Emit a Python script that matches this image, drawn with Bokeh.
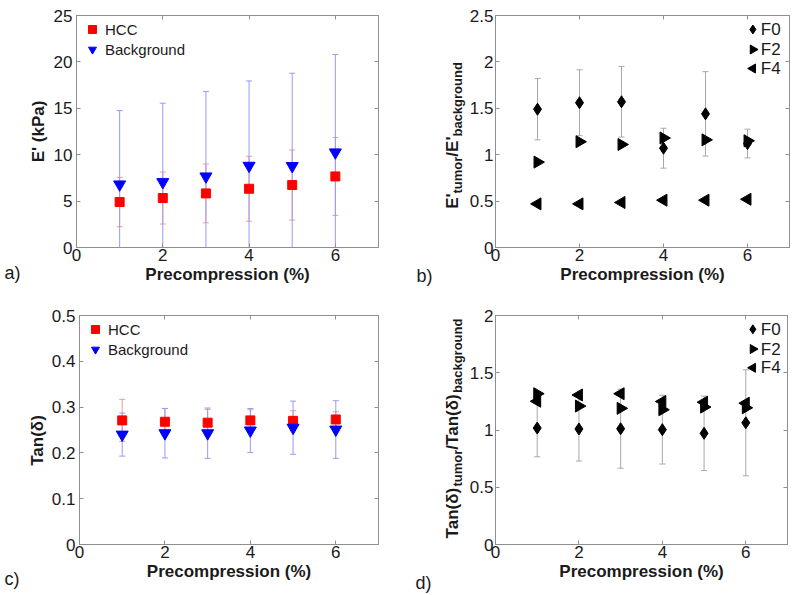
import math
from bokeh.plotting import figure
from bokeh.layouts import row, column
from bokeh.models import (LinearAxis, FixedTicker, NumeralTickFormatter, Range1d,
                          Label, Legend, LegendItem)
from bokeh.embed import file_html
from bokeh.resources import INLINE

# ---------------- data ----------------
precompression = [1, 2, 3, 4, 5, 6]
x_ticks = [0, 2, 4, 6]

# a) storage modulus E' (kPa), mean and SD
hcc_E = [4.90, 5.33, 5.83, 6.33, 6.73, 7.66]
hcc_E_sd = [2.66, 2.80, 3.17, 3.50, 3.78, 4.20]
bg_E = [6.80, 7.05, 7.66, 8.81, 8.78, 10.25]
bg_E_sd = [7.95, 8.50, 9.14, 9.14, 10.00, 10.55]
a_y_ticks = [0, 5, 10, 15, 20, 25]

# b) E'tumor / E'background by fibrosis stage
f0_E_ratio = [1.49, 1.56, 1.57, 1.07, 1.44, 1.12]
f0_E_ratio_sd = [0.33, 0.355, 0.38, 0.215, 0.455, 0.155]
f2_E_ratio = [0.92, 1.14, 1.11, 1.18, 1.16, 1.15]
f4_E_ratio = [0.47, 0.47, 0.485, 0.51, 0.51, 0.52]
b_y_ticks = [0, 0.5, 1, 1.5, 2, 2.5]

# c) Tan(delta)
hcc_tan = [0.271, 0.268, 0.266, 0.271, 0.270, 0.273]
hcc_tan_sd = [0.046, 0.029, 0.029, 0.023, 0.022, 0.017]
bg_tan = [0.240, 0.243, 0.243, 0.249, 0.255, 0.251]
bg_tan_sd = [0.047, 0.054, 0.055, 0.048, 0.058, 0.063]
c_y_ticks = [0, 0.1, 0.2, 0.3, 0.4, 0.5]

# d) Tan(delta)tumor / Tan(delta)background
f0_tan_ratio = [1.017, 1.009, 1.011, 1.003, 0.971, 1.063]
f0_tan_ratio_sd = [0.251, 0.280, 0.345, 0.300, 0.325, 0.463]
f2_tan_ratio = [1.317, 1.209, 1.189, 1.177, 1.200, 1.194]
f4_tan_ratio = [1.251, 1.306, 1.317, 1.249, 1.243, 1.234]
d_y_ticks = [0, 0.5, 1, 1.5, 2]

stage_labels = ["F0", "F2", "F4"]
tissue_labels = ["HCC", "Background"]

# ---------------- styling ----------------
FONT = "Liberation Sans"
AX = "#8f8f8f"
TXT = "#1a1a1a"
X_MAX = 7
RED, BLUE = "#ff0000", "#0000ff"
RED_EB, BLUE_EB = "#f29a9a", "#9a9af2"
GRAY_EB = "#a8a8a8"
SUB_SIZE = 13
BIG_SIZE = 17

# approximate advance widths (em) of Liberation Sans Bold, used to chain label pieces
BOLD_W = {"E": .667, "'": .238, "/": .278, "t": .333, "u": .611, "m": .889, "o": .611,
          "r": .389, "b": .611, "a": .556, "c": .556, "k": .556, "g": .611, "n": .611,
          "d": .611, "T": .611, "(": .333, ")": .333, "δ": .611}


def make_fig(width, height, bl, br, bt, bb, y_max, y_ticks, ytick_standoff=4):
    p = figure(width=width, height=height, x_range=Range1d(0, X_MAX), y_range=Range1d(0, y_max),
               output_backend="svg", toolbar_location=None,
               min_border_left=bl, min_border_right=br, min_border_top=bt, min_border_bottom=bb)
    p.grid.visible = False
    p.outline_line_color = AX
    p.background_fill_color = "white"
    p.border_fill_color = "white"
    xa = p.xaxis[0]
    ya = p.yaxis[0]
    xa.ticker = FixedTicker(ticks=x_ticks)
    ya.ticker = FixedTicker(ticks=y_ticks)
    for ax in (xa, ya):
        ax.formatter = NumeralTickFormatter(format="0.[0]")
        ax.major_tick_in = 4
        ax.major_tick_out = 0
        ax.minor_tick_line_color = None
        ax.axis_line_color = AX
        ax.major_tick_line_color = AX
        ax.major_label_text_font = FONT
        ax.major_label_text_font_size = "17px"
        ax.major_label_text_color = TXT
        ax.axis_label_text_font = FONT
        ax.axis_label_text_font_style = "bold"
        ax.axis_label_text_font_size = "17px"
        ax.axis_label_text_color = TXT
    xa.axis_label = "Precompression (%)"
    xa.major_label_standoff = 1
    xa.axis_label_standoff = 1
    ya.major_label_standoff = ytick_standoff
    for loc, ticks in (("right", y_ticks), ("above", x_ticks)):
        ax = LinearAxis(ticker=FixedTicker(ticks=ticks), major_label_text_font_size="0px",
                        major_label_text_color=None, major_tick_in=4, major_tick_out=0,
                        minor_tick_line_color=None, axis_line_color=AX,
                        major_tick_line_color=AX, major_label_standoff=0)
        p.add_layout(ax, loc)
    return p


def strip(w, h):
    # a plain canvas (no axes) whose frame is the whole canvas: data units == pixels
    s = figure(width=w, height=h, x_range=Range1d(0, w), y_range=Range1d(0, h),
               x_axis_location=None, y_axis_location=None, output_backend="svg",
               toolbar_location=None, min_border=0, min_border_left=0, min_border_right=0,
               min_border_top=0, min_border_bottom=0)
    s.frame_align = False
    s.outline_line_color = None
    s.grid.visible = False
    return s


def errbars(p, x, y, sd, color):
    lo = [m - s for m, s in zip(y, sd)]
    hi = [m + s for m, s in zip(y, sd)]
    p.segment(x0=x, y0=lo, x1=x, y1=hi, line_color=color, line_width=1)
    p.scatter(x=list(x) + list(x), y=lo + hi, marker="dash", size=6, line_color=color)


def px2data(geom, y_max, px, py):
    left, right, top, bottom = geom
    return ((px - left) / (right - left) * X_MAX, (bottom - py) / (bottom - top) * y_max)


def strip_label(s, h, text, lx, py, size="18px"):
    s.add_layout(Label(x=lx, y=h - py, text=text, text_font=FONT, text_font_size=size,
                       text_color=TXT, text_align="left", text_baseline="middle"))


def plain_ylabel(s, h, text, cx, cy):
    s.add_layout(Label(x=cx, y=h - cy, text=text, angle=math.pi / 2, text_font=FONT,
                       text_font_style="bold", text_font_size=f"{BIG_SIZE}px", text_color=TXT,
                       text_align="center", text_baseline="middle"))


def sub_ylabel(s, h, pieces, base_x, sub_x, center_py):
    sizes = [(t, SUB_SIZE if sub else BIG_SIZE, sub) for t, sub in pieces]
    widths = [sum(BOLD_W.get(ch, .6) for ch in t) * fs for t, fs, sub in sizes]
    y = (h - center_py) - sum(widths) / 2.0
    for (t, fs, sub), w in zip(sizes, widths):
        s.add_layout(Label(x=sub_x if sub else base_x, y=y, text=t, angle=math.pi / 2,
                           text_font=FONT, text_font_style="bold", text_font_size=f"{fs}px",
                           text_color=TXT, text_align="left", text_baseline="alphabetic"))
        y += w


def stage_legend(p, geom, y_max, specs, rows_py, glyph_px, text_px):
    for (marker, angle), label, py in zip(specs, stage_labels, rows_py):
        gx, gy = px2data(geom, y_max, glyph_px, py)
        tx, _ = px2data(geom, y_max, text_px, py)
        p.scatter([gx], [gy], marker=marker, angle=angle, size=9, color="black")
        p.add_layout(Label(x=tx, y=gy, text=label, text_font=FONT, text_font_size="17px",
                           text_color=TXT, text_align="left", text_baseline="middle"))


def tissue_legend(p, r1, r2):
    lg = Legend(items=[LegendItem(label=tissue_labels[0], renderers=[r1]),
                       LegendItem(label=tissue_labels[1], renderers=[r2])],
                location="top_left", border_line_color=None, background_fill_alpha=0,
                label_text_font=FONT, label_text_font_size="15px", label_text_color=TXT,
                glyph_width=24, glyph_height=20, label_height=20, spacing=0,
                padding=5, margin=4, label_standoff=1)
    p.add_layout(lg)


# frame geometry in page pixels (left, right, top, bottom)
GB = (492, 789, 15, 247)
GD = (492, 787, 315, 547)
MARK_F0 = ("diamond", 0)
MARK_F2 = ("triangle", -math.pi / 2)
MARK_F4 = ("triangle", math.pi / 2)

H1, H2 = 297, 298
Y2 = 297  # page y of the second row
SW = 66   # width of the label strip left of panels b and d

# ---------- a ----------
sa = strip(48, H1)
strip_label(sa, H1, "a)", 4, 272)
plain_ylabel(sa, H1, "E' (kPa)", 38, 131)
pa = make_fig(352, H1, 28, 22, 15, 50, 25, a_y_ticks)
errbars(pa, precompression, hcc_E, hcc_E_sd, RED_EB)
errbars(pa, precompression, bg_E, bg_E_sd, BLUE_EB)
ra1 = pa.scatter(precompression, hcc_E, marker="square", size=9, color=RED)
ra2 = pa.scatter(precompression, bg_E, marker="inverted_triangle", size=12, color=BLUE)
tissue_legend(pa, ra1, ra2)

# ---------- b ----------
sb = strip(SW, H1)
strip_label(sb, H1, "b)", 16, 275)
sub_ylabel(sb, H1, [("E'", False), ("tumor", True), ("/E'", False), ("background", True)],
           52, 57, 135)
pb = make_fig(400 - SW, H1, 492 - 400 - SW, 11, 15, 50, 2.5, b_y_ticks, ytick_standoff=2)
errbars(pb, precompression, f0_E_ratio, f0_E_ratio_sd, GRAY_EB)
pb.scatter(precompression, f0_E_ratio, marker="diamond", size=12, color="black")
pb.scatter(precompression, f2_E_ratio, marker="triangle", angle=-math.pi / 2, size=12, color="black")
pb.scatter(precompression, f4_E_ratio, marker="triangle", angle=math.pi / 2, size=12, color="black")
stage_legend(pb, GB, 2.5, [MARK_F0, MARK_F2, MARK_F4], [29, 49, 68], 752, 760)

# ---------- c ----------
sc = strip(48, H2)
strip_label(sc, H2, "c)", 4, 578 - Y2)
plain_ylabel(sc, H2, "Tan(δ)", 37, 440 - Y2)
pc = make_fig(352, H2, 28, 22, 18, 51, 0.5, c_y_ticks)
errbars(pc, precompression, hcc_tan, hcc_tan_sd, RED_EB)
errbars(pc, precompression, bg_tan, bg_tan_sd, BLUE_EB)
rc1 = pc.scatter(precompression, hcc_tan, marker="square", size=9, color=RED)
rc2 = pc.scatter(precompression, bg_tan, marker="inverted_triangle", size=12, color=BLUE)
tissue_legend(pc, rc1, rc2)

# ---------- d ----------
sd = strip(SW, H2)
strip_label(sd, H2, "d)", 15, 582 - Y2)
sub_ylabel(sd, H2, [("Tan(δ)", False), ("tumor", True), ("/Tan(δ)", False), ("background", True)],
           52, 57, 428 - Y2)
pd_ = make_fig(400 - SW, H2, 492 - 400 - SW, 13, 18, 51, 2, d_y_ticks, ytick_standoff=2)
errbars(pd_, precompression, f0_tan_ratio, f0_tan_ratio_sd, GRAY_EB)
pd_.scatter(precompression, f0_tan_ratio, marker="diamond", size=12, color="black")
pd_.scatter(precompression, f2_tan_ratio, marker="triangle", angle=-math.pi / 2, size=12, color="black")
pd_.scatter(precompression, f4_tan_ratio, marker="triangle", angle=math.pi / 2, size=12, color="black")
stage_legend(pd_, GD, 2, [MARK_F0, MARK_F2, MARK_F4], [329, 349, 368], 752, 760)

layout = column(row(sa, pa, sb, pb), row(sc, pc, sd, pd_))
open("out.html", "w").write(file_html(layout, INLINE))
